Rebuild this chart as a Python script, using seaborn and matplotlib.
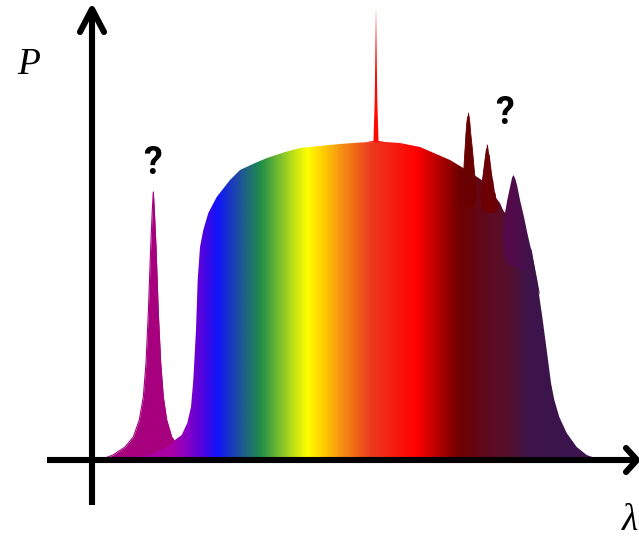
import matplotlib
matplotlib.use("Agg")
import numpy as np
import pandas as pd
import matplotlib.pyplot as plt
import seaborn as sns
from matplotlib.colors import LinearSegmentedColormap, to_rgb
from matplotlib.patches import Polygon

# ---- spectrum data (wavelength position, power) ----
body_lam = [100, 120, 150, 165, 173, 175, 181.7, 187.3, 191, 193.3, 196, 197.7,
            200, 203.3, 208.3, 216.7, 230, 240, 255, 267, 285, 300, 320, 340,
            360, 385, 400, 420, 450, 463.3, 481.7, 500, 503, 531.7, 537.3, 542.3,
            546.7, 551, 554.3, 559.3, 566.7, 576.7, 586.7, 595, 605]
body_P = [0, 1, 5, 12, 17, 20, 25, 37, 53, 80, 130, 180,
          213, 230, 247, 263, 280, 290, 297, 302, 308, 312, 314, 316,
          317.5, 318, 317, 313, 300, 292, 280, 257, 250, 210, 177, 143,
          110, 77, 60, 43, 27, 13, 5, 2, 0]

uv_lam = [100, 113, 125, 133.3, 139.3, 143.3, 146, 148.3, 150.7, 152.3, 153.3,
          154.3, 156, 158.3, 160.7, 163.3, 166.7, 171.7, 178, 188, 200, 215, 235]
uv_P = [0, 5, 13, 23, 40, 63, 97, 147, 213, 250, 268,
        250, 213, 147, 97, 63, 40, 23, 14, 8, 4, 1, 0]

line_lam = [364, 370, 373.5, 374.7, 375.4, 376, 376.6, 377.3, 378.5, 382, 388]
line_P = [317.5, 318.5, 319, 360, 410, 453, 410, 360, 319, 318.5, 317.5]

ir1_lam = [468.3, 469.2, 469.9, 470.7, 472.5, 474, 475.3, 476, 476, 474.5, 471,
           468, 465, 463.5, 463.3, 463.5, 464, 465, 466, 466.8, 467.5]
ir1_P = [347, 343, 337, 327, 310, 293, 280, 267, 260, 255, 253,
         253, 254, 258, 267, 280, 293, 310, 327, 337, 343]

ir2_lam = [487.3, 488.3, 489.2, 490.7, 493, 495, 497, 498.3, 497, 493, 488.3,
           484, 481.7, 481.3, 482.5, 484, 485.6, 486.4]
ir2_P = [315, 311, 305, 293, 280, 267, 258, 253, 249, 247, 247,
         248, 253, 267, 280, 293, 305, 311]

ir3_lam = [513.3, 515, 517, 520, 524, 527.3, 530.5, 533.3, 537.3, 540, 530, 520,
           513.3, 507, 505, 502.3, 503, 504.3, 507.3, 510.5, 512]
ir3_P = [285, 282, 275, 260, 243, 227, 213, 200, 180, 165, 185, 191,
         193, 197, 203, 220, 235, 243, 260, 275, 282]

# colour stops of the visible band along the wavelength axis
stop_lam = [100, 170, 185, 197, 217, 237, 260, 283, 307, 323, 343, 370, 417,
            460, 487, 510, 530, 610]
stop_col = ["#aa00a0", "#aa00a5", "#8c00c3", "#6400d7", "#0f14fa", "#1e4ba5",
            "#1e8c4b", "#8cc828", "#ffff00", "#ffcd00", "#f58c14", "#eb3c1e",
            "#ff0000", "#6e0000", "#5f0a1e", "#550f2d", "#3c144b", "#3c1450"]

ir3_stop_lam = [500, 515, 535, 545]
ir3_stop_col = ["#5a0846", "#500c4c", "#3c144b", "#3c144d"]

sns.set_theme(style="white")
fig = plt.figure(figsize=(6.39, 5.39), dpi=100)
ax = fig.add_axes([0, 0, 1, 1])
ax.set_xlim(0, 639)
ax.set_ylim(-79, 460)
ax.axis("off")


def gradient_fill(ax, lam, P, s_lam, s_col, z):
    lo, hi = s_lam[0], s_lam[-1]
    pos = [(v - lo) / (hi - lo) for v in s_lam]
    cmap = LinearSegmentedColormap.from_list("band", list(zip(pos, [to_rgb(c) for c in s_col])))
    poly = Polygon(np.column_stack([lam, P]), closed=True, facecolor="none",
                   edgecolor="none")
    ax.add_patch(poly)
    grad = np.linspace(0, 1, 800)[None, :]
    im = ax.imshow(grad, cmap=cmap, aspect="auto", extent=(lo, hi, -1, 460),
                   origin="lower", zorder=z, interpolation="bilinear")
    im.set_clip_path(poly)


# ultraviolet line
uv = pd.DataFrame({"lam": uv_lam, "P": uv_P})
sns.lineplot(data=uv, x="lam", y="P", color="#a6007f", lw=0.8, ax=ax, zorder=2)
ax.fill_between(uv_lam, uv_P, 0, color="#a6007f", lw=0, zorder=2)

# continuum with rainbow colouring
gradient_fill(ax, body_lam + [body_lam[0]], body_P + [0], stop_lam, stop_col, 3)

# narrow emission line on top of the continuum
ax.fill(line_lam, line_P, color="#ff0a00", lw=0, zorder=4)

# infrared bumps
gradient_fill(ax, ir3_lam, ir3_P, ir3_stop_lam, ir3_stop_col, 4)
for lam, P, c in [(ir1_lam, ir1_P, "#680000"), (ir2_lam, ir2_P, "#6c0004")]:
    df = pd.DataFrame({"lam": lam + [lam[0]], "P": P + [P[0]]})
    ax.fill(lam, P, color=c, lw=0, zorder=5)
    sns.lineplot(data=df, x="lam", y="P", sort=False, color=c, lw=0.6, ax=ax, zorder=5)

# axes with arrow heads
lw = 4.4
ax.plot([92, 92], [-45, 448], color="black", lw=lw, solid_capstyle="butt", zorder=6)
ax.plot([80, 92, 104], [428, 451, 428], color="black", lw=lw,
        solid_capstyle="round", solid_joinstyle="round", zorder=6)
ax.plot([47, 634], [0, 0], color="black", lw=lw, solid_capstyle="butt", zorder=6)
ax.plot([626, 637, 626], [12, 0, -12], color="black", lw=lw,
        solid_capstyle="round", solid_joinstyle="round", zorder=6)

ax.text(29, 395, "P", fontsize=27, fontstyle="italic", family="Liberation Serif",
        ha="center", va="center", color="black")
ax.text(630, -61, "λ", fontsize=27, fontstyle="italic", family="Liberation Serif",
        ha="center", va="center", color="black")
ax.text(152, 296, "?", fontsize=27, fontweight="bold", family="Roboto",
        ha="center", va="center", color="black")
ax.text(505, 347, "?", fontsize=27, fontweight="bold", family="Roboto",
        ha="center", va="center", color="black")

fig.savefig("out.png", dpi=100)
